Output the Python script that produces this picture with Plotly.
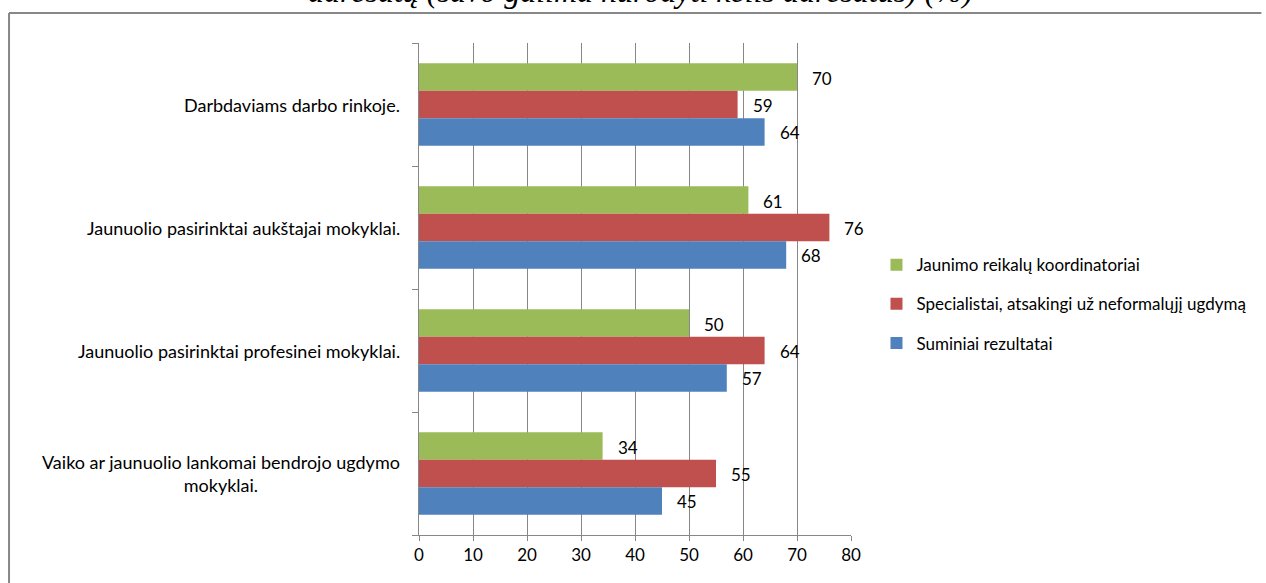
import plotly.graph_objects as go

categories = [
    "Darbdaviams darbo rinkoje.",
    "Jaunuolio pasirinktai aukštajai mokyklai.",
    "Jaunuolio pasirinktai profesinei mokyklai.",
    "Vaiko ar jaunuolio lankomai bendrojo ugdymo<br>mokyklai.",
]
series_names = [
    "Jaunimo reikalų koordinatoriai",
    "Specialistai, atsakingi už neformalųjį ugdymą",
    "Suminiai rezultatai",
]
koordinatoriai = [70, 61, 50, 34]
specialistai = [59, 76, 64, 55]
suminiai = [64, 68, 57, 45]
x_ticks = [0, 10, 20, 30, 40, 50, 60, 70, 80]

colors = ["#9BBB59", "#C0504D", "#4F81BD"]
series_values = [koordinatoriai, specialistai, suminiai]

FONT = "Lato"
fig = go.Figure()
cat_idx = list(range(len(categories)))
for i, (name, vals, col) in enumerate(zip(series_names, series_values, colors)):
    fig.add_trace(go.Bar(
        y=cat_idx, x=vals, name=name, orientation="h",
        marker=dict(color=col, line=dict(width=0)),
        legendgroup=name,
    ))

bargap = 0.33
bw = (1 - bargap) / 3
annotations = []
for i, vals in enumerate(series_values):
    off = (i - 1) * bw
    for j, v in enumerate(vals):
        annotations.append(dict(
            x=v, y=j + off, xref="x", yref="y", text=str(v), showarrow=False,
            xanchor="left", yanchor="middle", xshift=13, yshift=-1,
            font=dict(family=FONT, size=17, color="#000000"),
        ))

for j, c in enumerate(categories):
    annotations.append(dict(
        x=-0.040, y=j, xref="paper", yref="y", text=c, showarrow=False,
        xanchor="right", yanchor="middle", align="center",
        font=dict(family=FONT, size=18, color="#000000"),
    ))

annotations.append(dict(
    x=0.512, y=1.066, xref="paper", yref="paper",
    text="<i>adresatų (savo galima nurodyti kelis adresatus) (%)</i>",
    showarrow=False, xanchor="center", yanchor="bottom",
    font=dict(family="Liberation Serif", size=32, color="#000000"),
))

border = dict(color="#878787", width=2)
fig.add_shape(type="line", xref="paper", yref="paper",
              x0=-0.949, x1=1.95, y0=1.061, y1=1.061, line=border, layer="below")
fig.add_shape(type="line", xref="paper", yref="paper",
              x0=-0.949, x1=-0.949, y0=-0.5, y1=1.061, line=border, layer="below")

fig.update_layout(
    width=1266, height=583,
    margin=dict(l=419, r=415, t=43, b=48),
    plot_bgcolor="white", paper_bgcolor="white",
    barmode="group", bargap=bargap, bargroupgap=0,
    annotations=annotations,
    legend=dict(
        x=1.059, y=0.585, xanchor="left", yanchor="top",
        font=dict(family=FONT, size=17, color="#000000"),
        tracegroupgap=14, traceorder="grouped",
        itemwidth=30,
    ),
    xaxis=dict(
        range=[0, 80], tickvals=x_ticks, ticktext=[str(t) for t in x_ticks],
        showgrid=True, gridcolor="#878787", gridwidth=1,
        showline=True, linecolor="#878787", linewidth=1,
        ticks="outside", ticklen=5, tickcolor="#878787",
        tickfont=dict(family=FONT, size=17, color="#000000"),
        zeroline=False, fixedrange=True,
    ),
    yaxis=dict(
        range=[3.5, -0.5],
        tickvals=[-0.5, 0.5, 1.5, 2.5, 3.5], ticktext=["", "", "", "", ""],
        showgrid=False, showline=True, linecolor="#878787", linewidth=1,
        ticks="outside", ticklen=6, tickcolor="#878787",
        zeroline=False, fixedrange=True,
    ),
    showlegend=True,
)

fig.write_html(
    "out.html",
    config={"displayModeBar": False},
    post_script="document.body.style.margin='0px';document.body.style.overflow='hidden';",
)
